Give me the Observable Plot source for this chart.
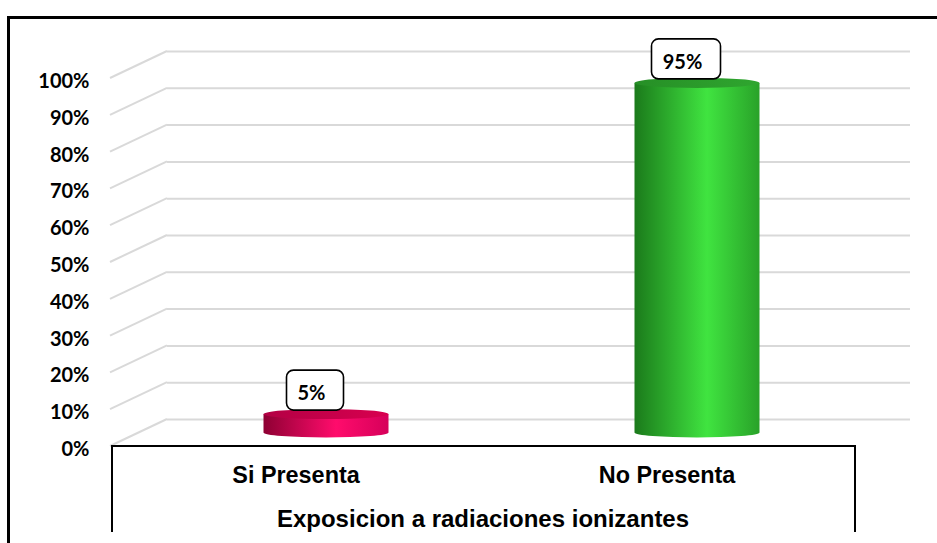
<!DOCTYPE html>
<html>
<head>
<meta charset="utf-8">
<script src="https://cdn.jsdelivr.net/npm/d3@7"></script>
<script src="https://cdn.jsdelivr.net/npm/@observablehq/plot@0.6"></script>
<style>
  html, body { margin: 0; padding: 0; background: #fff; }
  #wrap { position: relative; width: 937px; height: 543px; overflow: hidden; }
  #frame { position: absolute; left: 7px; top: 16px; width: 980px; height: 600px; border: 3px solid #000; box-sizing: border-box; pointer-events: none; }
</style>
</head>
<body>
<div id="wrap"><div id="chart"></div><div id="frame"></div></div>
<script>
const categories = ["Si Presenta", "No Presenta"];
const values = [0.05, 0.95];
const valueLabels = ["5%", "95%"];
const yTicks = [0, 0.1, 0.2, 0.3, 0.4, 0.5, 0.6, 0.7, 0.8, 0.9, 1.0];
const yTickLabels = ["0%", "10%", "20%", "30%", "40%", "50%", "60%", "70%", "80%", "90%", "100%"];
const axisTitle = "Exposicion a radiaciones ionizantes";
const palette = [
  {dark: "#8e0033", mid: "#ff0c6c", right: "#d6005a", topL: "#b30044", topR: "#d8004f"},
  {dark: "#1b7a1b", mid: "#40e440", right: "#29a229", topL: "#268f26", topR: "#2fa62f"}
];

const data = categories.map((c, i) => ({category: c, value: values[i], label: valueLabels[i], i}));
const DX = 55, DY = -27;

function bandCenter(s, c) {
  const bw = typeof s.bandwidth === "function" ? s.bandwidth() : (s.bandwidth || 0);
  return s(c) + bw / 2;
}

const diagonals = (index, scales, vals, dims) => {
  const g = d3.create("svg:g");
  const x0 = dims.marginLeft;
  for (const t of yTicks) {
    const y = scales.y(t);
    g.append("line").attr("x1", x0 - 2).attr("y1", y).attr("x2", x0 + DX).attr("y2", y + DY)
      .attr("stroke", "#d9d9d9").attr("stroke-width", 2);
  }
  return g.node();
};

const tableLines = (index, scales, vals, dims) => {
  const g = d3.create("svg:g");
  const y0 = scales.y(0);
  const xl = dims.marginLeft, xr = dims.width - dims.marginRight;
  g.append("path").attr("d", `M${xl},${dims.height - 11}V${y0}H${xr}V${dims.height - 11}`)
    .attr("fill", "none").attr("stroke", "#000").attr("stroke-width", 2);
  return g.node();
};

const cylinders = (index, scales, vals, dims) => {
  const g = d3.create("svg:g");
  const defs = g.append("defs");
  const r = 62.5, ry = 5;
  data.forEach((d, i) => {
    const p = palette[i];
    const gid = "body" + i, tid = "top" + i;
    const lg = defs.append("linearGradient").attr("id", gid).attr("x1", 0).attr("x2", 1).attr("y1", 0).attr("y2", 0);
    lg.append("stop").attr("offset", "0%").attr("stop-color", p.dark);
    lg.append("stop").attr("offset", "58%").attr("stop-color", p.mid);
    lg.append("stop").attr("offset", "100%").attr("stop-color", p.right);
    const tg = defs.append("linearGradient").attr("id", tid).attr("x1", 0).attr("x2", 1).attr("y1", 0).attr("y2", 0);
    tg.append("stop").attr("offset", "0%").attr("stop-color", p.topL);
    tg.append("stop").attr("offset", "100%").attr("stop-color", p.topR);
    const cx = bandCenter(scales.x, d.category) + DX / 2;
    const base = scales.y(0) + DY / 2;
    const top = scales.y(d.value) + DY / 2;
    g.append("path")
      .attr("d", `M${cx - r},${top}V${base}A${r},${ry} 0 0 0 ${cx + r},${base}V${top}Z`)
      .attr("fill", `url(#${gid})`);
    g.append("ellipse").attr("cx", cx).attr("cy", top).attr("rx", r).attr("ry", ry)
      .attr("fill", `url(#${tid})`);
    const bw = 12 * d.label.length + 33, bh = 40;
    const bx = cx - 11, bb = top - 4;
    g.append("rect").attr("x", bx - bw / 2).attr("y", bb - bh).attr("width", bw).attr("height", bh)
      .attr("rx", 7).attr("fill", "#fff").attr("stroke", "#000").attr("stroke-width", 1.6);
    g.append("text").attr("x", bx - 3.5).attr("y", bb - 10).attr("text-anchor", "middle")
      .attr("font-family", "Lato, sans-serif").attr("font-weight", "bold").attr("font-size", 20)
      .attr("fill", "#000").text(d.label);
  });
  return g.node();
};

const chart = Plot.plot({
  width: 937,
  height: 543,
  marginLeft: 112,
  marginRight: 82,
  marginTop: 78,
  marginBottom: 97,
  x: {type: "band", domain: categories, padding: 0, axis: null},
  y: {domain: [0, 1], axis: null},
  style: {background: "transparent", overflow: "visible", fontFamily: "'Liberation Sans', Arial, sans-serif"},
  marks: [
    Plot.ruleY(yTicks, {dx: DX, dy: DY, stroke: "#d9d9d9", strokeWidth: 2}),
    diagonals,
    Plot.text(yTicks, {y: d => d, text: (d, i) => yTickLabels[i], frameAnchor: "left", dx: -23, dy: 3,
      textAnchor: "end", fontFamily: "Lato, sans-serif", fontWeight: "bold", fontSize: 20, fill: "#000"}),
    tableLines,
    Plot.axisX(categories, {anchor: "bottom", tickSize: 0, tickPadding: 20, fontSize: 23.4, fontWeight: "bold",
      fontFamily: "'Liberation Sans', Arial, sans-serif", fill: "#000", label: null, dx: -3}),
    Plot.text([axisTitle], {frameAnchor: "bottom", dy: 72.4, lineAnchor: "middle", fontSize: 24, fontWeight: "bold",
      fontFamily: "'Liberation Sans', Arial, sans-serif", fill: "#000", dx: -1}),
    cylinders
  ]
});
document.getElementById("chart").appendChild(chart);
</script>
</body>
</html>
